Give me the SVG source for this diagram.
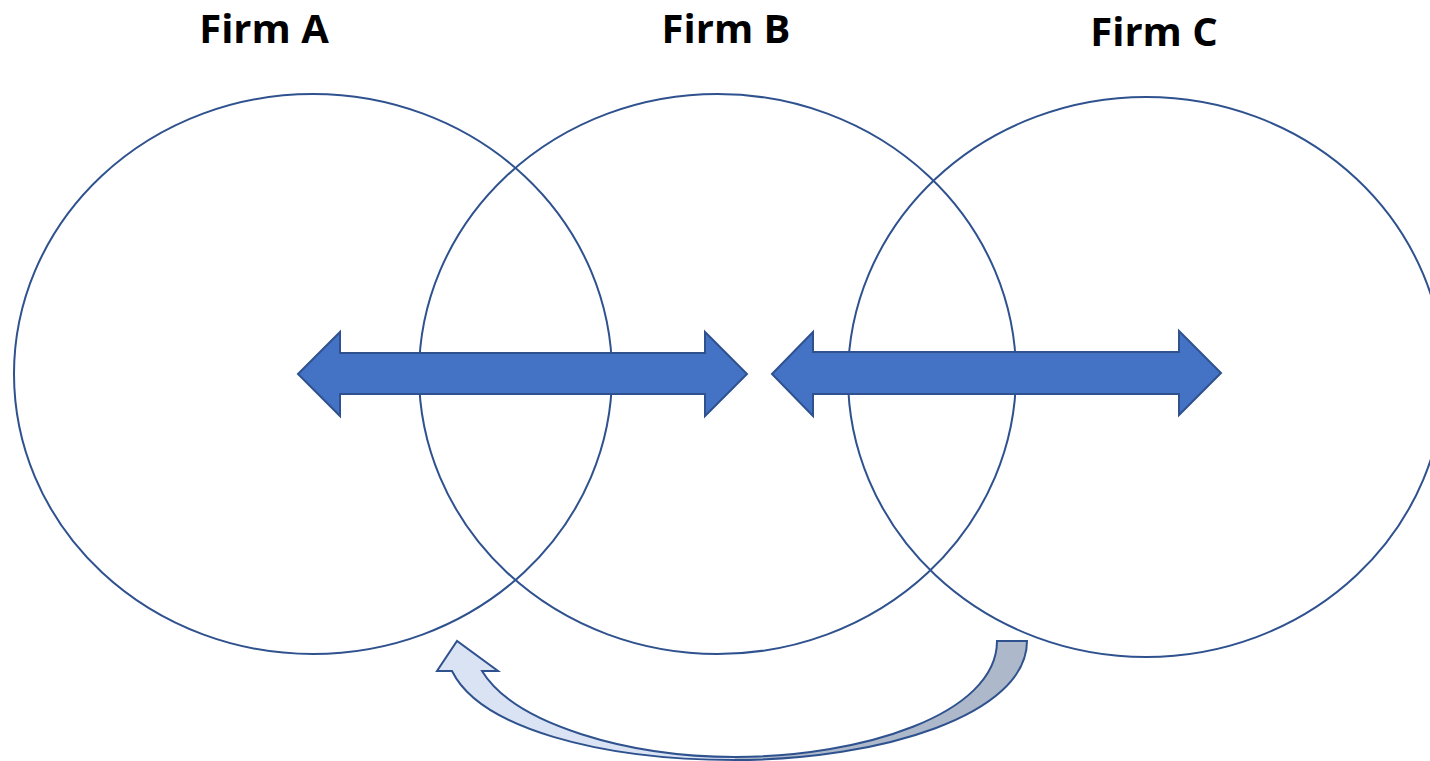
<svg xmlns="http://www.w3.org/2000/svg" width="1430" height="761" viewBox="0 0 1430 761">
<style>
.circ{fill:none;stroke:#2F528F;stroke-width:2}
.arr{fill:#4472C4;stroke:#2F528F;stroke-width:2;stroke-linejoin:miter}
.lbl{font-family:"Open Sans","Liberation Sans",sans-serif;font-weight:700;font-size:40px;fill:#000;text-anchor:middle}
</style>
<rect width="1430" height="761" fill="#fff"/>
<g id="firmA"><ellipse class="circ" cx="313" cy="374" rx="299" ry="280"/><text class="lbl" x="264" y="43">Firm A</text></g>
<g id="firmB"><ellipse class="circ" cx="717.5" cy="374" rx="298.5" ry="280"/><text class="lbl" x="726" y="43">Firm B</text></g>
<g id="firmC"><ellipse class="circ" cx="1146" cy="377" rx="298" ry="280"/><text class="lbl" x="1154" y="46">Firm C</text></g>
<g id="connectors">
<path class="arr" d="M298,374 L340,332 L340,353 L705,353 L705,332 L747,374 L705,416 L705,394 L340,394 L340,416 Z"/>
<path class="arr" d="M772,374 L813,332 L813,352 L1179,352 L1179,331 L1221,373 L1179,415 L1179,394 L813,394 L813,416 Z"/>
<g id="curved-arrow">
<path fill="#ADB9CA" d="M997,641 L1027,641 C1027,715 880,760 735,760 L735,757 C860,757 997,715 997,641 Z"/>
<path fill="#DAE3F3" d="M735,760 C600,760 480,728 452,671 L437,671 L457,641 L498,671 L482,671 C515,725 630,757 735,757 Z"/>
<path fill="none" stroke="#2F528F" stroke-width="2" stroke-linejoin="miter" d="M997,641 L1027,641 C1027,715 880,760 735,760 C600,760 480,728 452,671 L437,671 L457,641 L498,671 L482,671 C515,725 630,757 735,757 C860,757 997,715 997,641 Z"/>
</g>
</g>
</svg>
